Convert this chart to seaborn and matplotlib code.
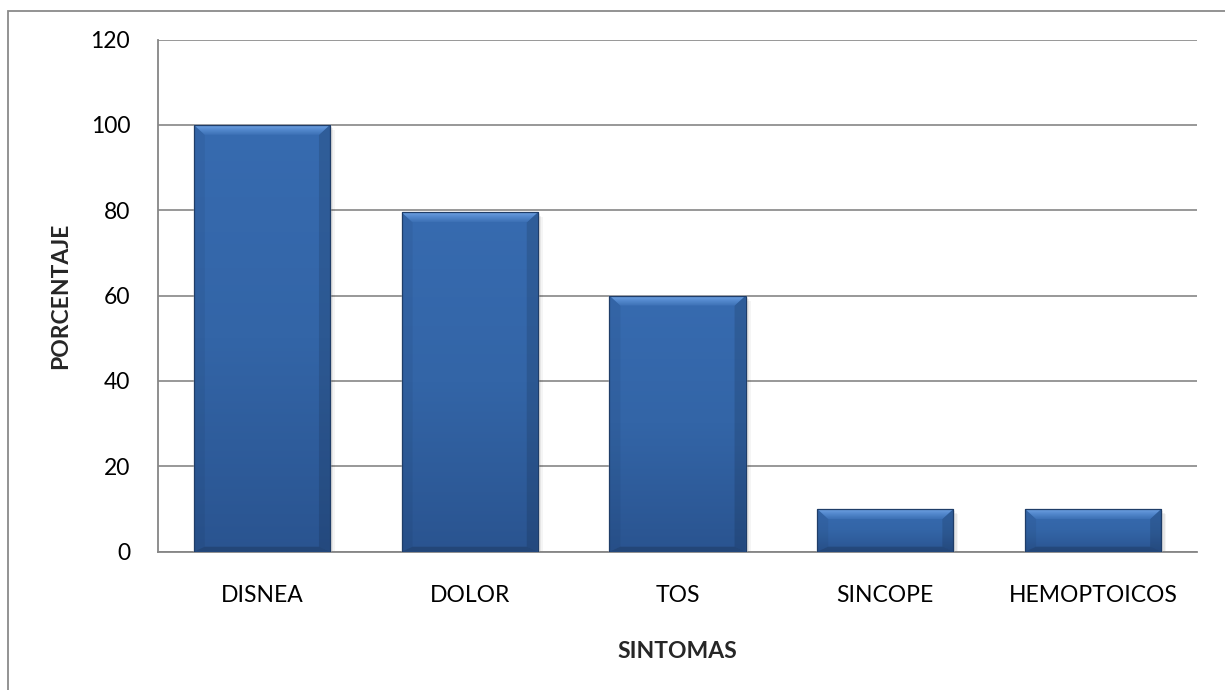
import numpy as np
import pandas as pd
import matplotlib
matplotlib.use("Agg")
import matplotlib.pyplot as plt
import seaborn as sns
from matplotlib.patches import Rectangle, Polygon
from matplotlib.transforms import IdentityTransform
from matplotlib.colors import LinearSegmentedColormap

# Data
sintomas = ["DISNEA", "DOLOR", "TOS", "SINCOPE", "HEMOPTOICOS"]
porcentaje = [100, 79.5, 60, 10, 10]
y_ticks = [0, 20, 40, 60, 80, 100, 120]

sns.set_theme(style="white")
plt.rcParams["font.family"] = ["Lato", "DejaVu Sans"]

W, H, DPI = 1225, 690, 100
fig = plt.figure(figsize=(W / DPI, H / DPI), dpi=DPI)
fig.patch.set_facecolor("white")
ax = fig.add_axes([158 / W, 1 - 551.7 / H, (1197 - 158) / W, (551.7 - 39.5) / H])

df = pd.DataFrame({"SINTOMAS": sintomas, "PORCENTAJE": porcentaje})
sns.barplot(data=df, x="SINTOMAS", y="PORCENTAJE", color="#30609F",
            saturation=1, width=0.655, ax=ax, zorder=3)

ax.set_xlim(-0.5, len(sintomas) - 0.5)
ax.set_ylim(0, 120)
ax.set_yticks(y_ticks)
ax.set_yticklabels([str(t) for t in y_ticks])

grid_c = "#868686"
ax.yaxis.grid(True, color=grid_c, linewidth=1.2)
ax.set_axisbelow(True)
for side in ("top", "right"):
    ax.spines[side].set_visible(False)
for side in ("left", "bottom"):
    ax.spines[side].set_visible(True)
    ax.spines[side].set_color(grid_c)
    ax.spines[side].set_linewidth(1.3)
ax.set_facecolor("white")

ax.tick_params(axis="both", length=0, labelsize=16.5, colors="black")
ax.tick_params(axis="y", pad=20)
ax.tick_params(axis="x", pad=24)
ax.set_xlabel("SINTOMAS", fontsize=16.5, fontweight="bold", labelpad=25)
ax.set_ylabel("PORCENTAJE", fontsize=16.5, fontweight="bold", labelpad=14)

# Bevelled, gradient-filled bars
body_cmap = LinearSegmentedColormap.from_list("body", ["#2A5490", "#3365A7", "#376BB0"])
top_cmap = LinearSegmentedColormap.from_list("top", ["#3C70B4", "#5287CC", "#6EA1E2"])
ident = IdentityTransform()
grad = np.linspace(0, 1, 256).reshape(-1, 1)

bars = list(ax.patches)
for p in bars:
    x0, y0, w, h = p.get_x(), p.get_y(), p.get_width(), p.get_height()
    (dx0, dy0) = ax.transData.transform((x0, y0))
    (dx1, dy1) = ax.transData.transform((x0 + w, y0 + h))
    bh = min(10.0, (dy1 - dy0) * 0.3)
    bw = 11.0

    # soft shadow to the lower right
    for k, a in ((5, 0.04), (3.5, 0.06), (2, 0.08)):
        sh = Rectangle((dx0 + k, dy0 - k), dx1 - dx0, dy1 - dy0,
                       transform=ident, facecolor="black", alpha=a,
                       edgecolor="none", zorder=2)
        ax.add_artist(sh)

    # body gradient
    im = ax.imshow(grad, cmap=body_cmap, extent=(x0, x0 + w, y0, y0 + h),
                   origin="lower", aspect="auto", zorder=4)
    im.set_clip_path(p)

    # left, right and bottom bevel shading
    left_poly = Polygon([(dx0, dy1), (dx0 + bw, dy1 - bh), (dx0 + bw, dy0 + bh * 0.5), (dx0, dy0)],
                        closed=True, transform=ident, facecolor="black", alpha=0.05,
                        edgecolor="none", zorder=5)
    right_poly = Polygon([(dx1, dy1), (dx1 - bw, dy1 - bh), (dx1 - bw, dy0 + bh * 0.5), (dx1, dy0)],
                         closed=True, transform=ident, facecolor="black", alpha=0.12,
                         edgecolor="none", zorder=5)
    bottom_poly = Polygon([(dx0, dy0), (dx1, dy0), (dx1 - bw, dy0 + bh * 0.5), (dx0 + bw, dy0 + bh * 0.5)],
                          closed=True, transform=ident, facecolor="black", alpha=0.16,
                          edgecolor="none", zorder=5)
    for poly in (left_poly, right_poly, bottom_poly):
        ax.add_artist(poly)

    # top bevel with highlight
    top_poly = Polygon([(dx0, dy1), (dx1, dy1), (dx1 - bw, dy1 - bh), (dx0 + bw, dy1 - bh)],
                       closed=True, transform=ident, facecolor="none", edgecolor="none")
    ax.add_artist(top_poly)
    im2 = ax.imshow(grad, cmap=top_cmap,
                    extent=(x0, x0 + w, y0 + h - (bh / (dy1 - dy0)) * h, y0 + h),
                    origin="lower", aspect="auto", zorder=6)
    im2.set_clip_path(top_poly)

    # thin dark outline
    outline = Rectangle((dx0, dy0), dx1 - dx0, dy1 - dy0, transform=ident,
                        facecolor="none", edgecolor="#1F3D68", linewidth=0.9, zorder=7)
    ax.add_artist(outline)

ax.set_xlim(-0.5, len(sintomas) - 0.5)
ax.set_ylim(0, 120)

# chart area border (top and left edges fall inside the image)
fig.patches.append(Rectangle((7.5 / W, -0.2), 1.3, 1.2 - 10.5 / H, transform=fig.transFigure,
                             facecolor="none", edgecolor="#8A8A8A", linewidth=1.3,
                             clip_on=False))

fig.savefig("out.png", dpi=DPI, facecolor="white")
